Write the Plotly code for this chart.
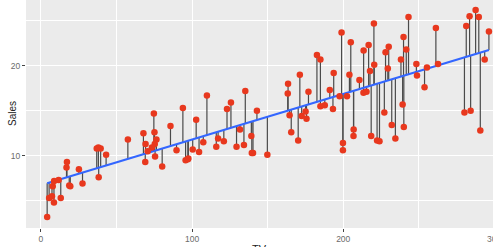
import numpy as np
import plotly.graph_objects as go

# TV advertising budget (x) and Sales (y)
tv = [4.1, 5.4, 7.3, 8.6, 7.8, 8.7, 11.7, 13.1, 17.2, 16.9, 18.7, 19.4, 25.1, 27.5,
      36.9, 39.5, 38.0, 38.2, 43.1,
      57.5, 67.8, 69.2, 69.0, 74.7, 75.1, 76.4, 75.3, 73.4, 70.6, 75.5, 80.2, 85.7,
      89.7, 93.9, 95.7, 97.2, 97.5, 100.4, 102.7, 104.6, 107.4, 109.8, 116.0, 117.2,
      121.0, 123.1, 125.7, 129.4, 131.7, 134.3, 135.2, 139.2,
      140.3, 139.5, 142.9, 149.8, 163.5, 163.3, 164.5, 165.6, 171.3, 170.2, 172.5,
      175.1, 175.7, 177.0, 182.6, 184.9, 184.9, 187.8, 191.1, 193.2, 193.7, 197.6,
      198.9, 199.8, 199.8, 202.5, 204.1, 205.0, 206.9, 206.8, 210.7, 213.5, 213.4,
      216.8, 215.4, 218.5,
      217.7, 220.3, 220.5, 222.4, 224.0, 227.2, 228.0, 230.1, 229.5, 232.1, 234.5,
      238.2, 239.3, 240.1, 239.9, 241.7, 243.2, 248.4, 248.8, 253.8, 255.4, 261.3,
      262.7, 280.2, 281.4, 283.6, 284.3, 287.6, 289.7, 290.7, 293.6, 296.4]
sales = [3.2, 5.3, 5.5, 4.8, 6.6, 7.2, 7.3, 5.3, 9.3, 8.7, 6.7, 6.6, 8.5, 6.9,
         10.8, 10.8, 10.9, 7.6, 10.1,
         11.8, 12.5, 11.3, 9.3, 14.7, 12.6, 11.8, 11.3, 10.9, 10.5, 9.9, 8.8, 13.3,
         10.6, 15.3, 9.5, 9.6, 9.7, 10.7, 14.0, 10.4, 11.5, 16.7, 11.0, 11.9,
         11.6, 15.2, 15.9, 11.0, 12.9, 11.2, 17.2, 12.2,
         10.3, 10.3, 15.0, 10.1, 18.0, 16.9, 14.5, 12.6, 19.0, 11.7, 14.4,
         14.9, 14.1, 17.1, 21.2, 20.7, 15.5, 15.6, 17.3, 15.2, 19.2, 16.6,
         23.7, 11.4, 10.6, 16.6, 19.0, 22.6, 12.9, 12.2, 18.4, 21.7, 17.0,
         22.3, 17.1, 12.2,
         19.4, 24.7, 20.1, 11.7, 11.6, 14.8, 21.5, 22.1, 19.7, 13.4, 11.9,
         20.7, 15.7, 13.2, 23.2, 21.8, 25.4, 20.2, 18.9, 17.6, 19.8, 24.2,
         20.2, 14.8, 24.4, 25.5, 15.0, 26.2, 25.4, 12.8, 20.7, 23.8]

x_ticks = [0, 100, 200]
y_ticks = [10, 20]

x = np.array(tv)
y = np.array(sales)
slope, intercept = np.polyfit(x, y, 1)
fitted = intercept + slope * x

seg_x, seg_y = [], []
for xi, yi, fi in zip(x, y, fitted):
    seg_x += [xi, xi, None]
    seg_y += [yi, fi, None]

line_x = np.array([x.min(), x.max()])
line_y = intercept + slope * line_x

fig = go.Figure()
fig.add_trace(go.Scatter(x=seg_x, y=seg_y, mode="lines",
                         line=dict(color="#4a4a4a", width=1.2), hoverinfo="skip"))
fig.add_trace(go.Scatter(x=line_x, y=line_y, mode="lines",
                         line=dict(color="#3366FF", width=2.2)))
fig.add_trace(go.Scatter(x=tv, y=sales, mode="markers",
                         marker=dict(color="#E8381E", size=6.5)))

xr = [-9.9, 299.1]
yr = [1.97, 27.3]
tickfont = dict(family="Liberation Sans, Arial, sans-serif", size=8.5, color="#6b6b6b")

fig.update_layout(
    width=493, height=247,
    margin=dict(l=26, r=0, t=0, b=19),
    paper_bgcolor="white", plot_bgcolor="#EBEBEB",
    showlegend=False,
    xaxis=dict(range=xr, tickvals=x_ticks, ticktext=[str(v) for v in x_ticks],
               showgrid=True, gridcolor="white", gridwidth=1.1, zeroline=False,
               ticks="outside", ticklen=3, tickcolor="#444", tickwidth=1,
               tickfont=tickfont, showline=False,
               minor=dict(tickvals=[50, 150, 250], showgrid=True, gridcolor="white",
                          gridwidth=0.5, ticks="")),
    yaxis=dict(range=yr, tickvals=y_ticks, ticktext=[str(v) for v in y_ticks],
               showgrid=True, gridcolor="white", gridwidth=1.1, zeroline=False,
               ticks="outside", ticklen=3, tickcolor="#444", tickwidth=1,
               tickfont=tickfont, showline=False,
               minor=dict(tickvals=[5, 15, 25], showgrid=True, gridcolor="white",
                          gridwidth=0.5, ticks="")),
)

# partially visible 300 tick label at the right edge
fig.add_annotation(x=(300 - xr[0]) / (xr[1] - xr[0]), xref="paper",
                   y=0, yref="paper", yshift=-4, yanchor="top", xanchor="center",
                   text="300", showarrow=False, font=tickfont)
# axis titles
fig.add_annotation(x=0.5, xref="paper", y=0, yref="paper", yshift=-13,
                   yanchor="top", xanchor="center", text="TV", showarrow=False,
                   font=dict(family="Liberation Sans, Arial, sans-serif", size=11, color="#222"))
fig.add_annotation(x=0, xref="paper", xshift=-14, y=0.5, yref="paper",
                   textangle=-90, xanchor="center", yanchor="middle", text="Sales",
                   showarrow=False,
                   font=dict(family="Liberation Sans, Arial, sans-serif", size=10, color="#222"))

fig.write_html("out.html")
